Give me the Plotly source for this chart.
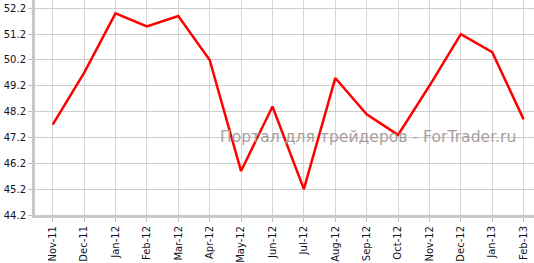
import plotly.graph_objects as go

months = ["Nov-11", "Dec-11", "Jan-12", "Feb-12", "Mar-12", "Apr-12", "May-12", "Jun-12",
          "Jul-12", "Aug-12", "Sep-12", "Oct-12", "Nov-12", "Dec-12", "Jan-13", "Feb-13"]
values = [47.7, 49.7, 52.0, 51.5, 51.9, 50.2, 45.9, 48.4,
          45.2, 49.5, 48.1, 47.3, 49.2, 51.2, 50.5, 47.9]
y_ticks = [44.2, 45.2, 46.2, 47.2, 48.2, 49.2, 50.2, 51.2, 52.2]
watermark = "Портал для трейдеров - ForTrader.ru"

idx = list(range(len(months)))

fig = go.Figure()
fig.add_trace(go.Scatter(x=idx, y=values, mode="lines",
                         line=dict(color="#ff0000", width=2.5), hoverinfo="skip"))

fig.update_layout(
    width=534, height=263,
    margin=dict(l=35, r=0, t=0, b=38),
    paper_bgcolor="white", plot_bgcolor="white",
    showlegend=False,
    annotations=[dict(text=watermark, xref="paper", yref="paper", x=0.968, y=0.364,
                      xanchor="right", yanchor="middle", showarrow=False,
                      font=dict(family="DejaVu Sans", size=15.6, color="#a89e9e"))],
)
fig.update_xaxes(
    tickmode="array", tickvals=idx, ticktext=months, tickangle=-90,
    range=[-0.564, 15.33],
    showgrid=True, gridcolor="#d6d6d6", gridwidth=1,
    showline=True, linecolor="#c8c8c8", linewidth=3,
    ticks="outside", ticklen=4, tickcolor="#c0c0c0", tickwidth=1,
    tickfont=dict(family="DejaVu Sans", size=10, color="#111122"),
    zeroline=False,
)
fig.update_yaxes(
    tickmode="array", tickvals=y_ticks, ticktext=[f"{v:.1f}" for v in y_ticks],
    range=[44.2, 52.52],
    showgrid=True, gridcolor="#cccccc", gridwidth=1,
    showline=True, linecolor="#c8c8c8", linewidth=3,
    ticks="outside", ticklen=4, tickcolor="#c0c0c0", tickwidth=1,
    tickfont=dict(family="DejaVu Sans", size=10, color="#111122"),
    zeroline=False,
)

fig.write_html("out.html")
